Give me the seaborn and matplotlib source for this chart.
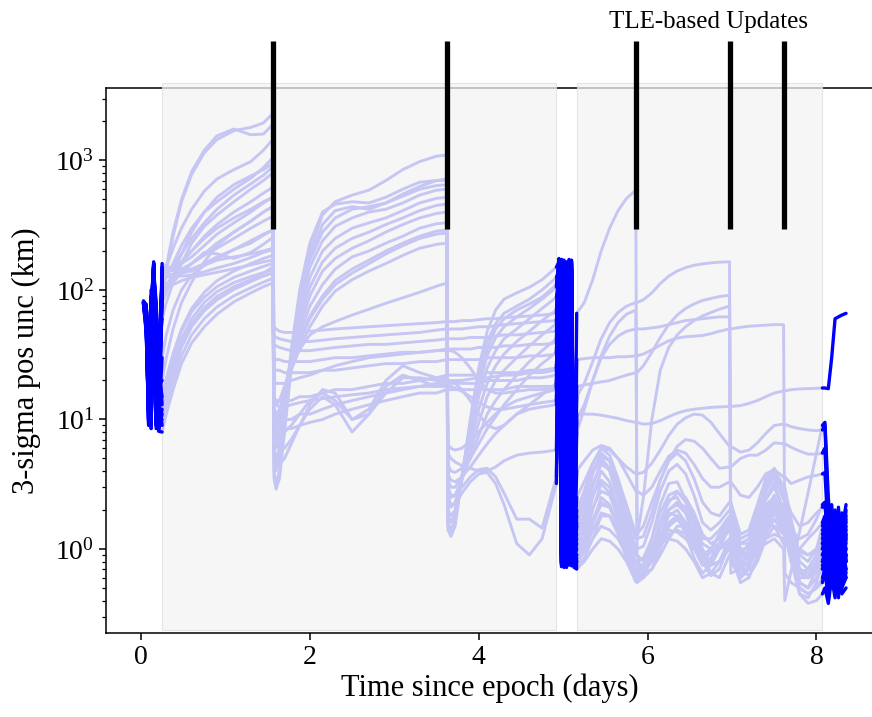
import numpy as np
import pandas as pd
import matplotlib
matplotlib.use("Agg")
import matplotlib.pyplot as plt
from matplotlib.patches import Rectangle
import seaborn as sns

# --- knot times for each phase (days) ---
GAP0_T = [0.03, 0.06, 0.09, 0.12, 0.15, 0.18, 0.21]
A_T = [0.25, 0.3, 0.38, 0.48, 0.6, 0.75, 0.9, 1.1, 1.3, 1.45, 1.56]
B_T = [1.575, 1.6, 1.64, 1.7, 1.78, 1.88, 2.0, 2.15, 2.3, 2.5, 2.7, 2.9, 3.1, 3.3, 3.5, 3.62]
C_T = [3.635, 3.67, 3.72, 3.8, 3.9, 4.0, 4.1, 4.2, 4.3, 4.45, 4.6, 4.75, 4.92]
GAP1_T = [4.95, 4.98, 5.01, 5.04, 5.07, 5.10, 5.13]
D_T = [5.16, 5.25, 5.35, 5.45, 5.55, 5.65, 5.75, 5.86, 5.875, 5.95, 6.05, 6.15, 6.25,
       6.35, 6.45, 6.55, 6.65, 6.75, 6.85, 6.97, 6.985, 7.1, 7.2, 7.3, 7.4, 7.5,
       7.61, 7.625, 7.7, 7.8, 7.9, 8.0, 8.07]
GAP2_T = [8.10, 8.14, 8.18, 8.22, 8.26, 8.30, 8.35]

# TLE update epochs and shaded propagation windows
UPDATES = [1.56, 3.62, 5.86, 6.97, 7.61]
WINDOWS = [(0.249, 4.911), (5.16, 8.07)]

# --- 3-sigma position uncertainty (km) per run ---
GAP0 = [
    [80, 78, 40, 8.5, 150, 30, 8.2], [81, 70, 9.0, 60, 160, 9.0, 20],
    [79, 50, 25, 12, 120, 60, 10], [80, 60, 15, 100, 40, 8.5, 40],
    [82, 76, 30, 9.0, 165, 45, 9.5], [78, 55, 9.5, 80, 150, 12, 30],
    [80, 66, 20, 10, 140, 80, 8.8], [81, 72, 12, 50, 160, 20, 12],
    [79, 48, 22, 14, 110, 50, 18], [80, 74, 35, 8.7, 155, 25, 8.4],
    [80, 64, 10, 70, 145, 10, 25], [81, 58, 18, 11, 130, 70, 11],
    [79, 75, 45, 9.2, 158, 35, 9.0], [80, 62, 14, 90, 60, 9.0, 35],
    [82, 70, 28, 8.9, 162, 40, 8.6], [78, 52, 11, 40, 150, 15, 14],
    [80, 77, 38, 8.6, 148, 28, 8.1], [81, 66, 16, 12, 138, 65, 9.5],
    [79, 60, 9.8, 75, 152, 11, 22], [80, 71, 32, 9.4, 160, 33, 8.5],
    [80, 68, 13, 55, 142, 14, 28], [81, 57, 24, 10, 125, 75, 12],
    [79, 73, 9.3, 65, 155, 9.5, 18], [80, 63, 36, 9.6, 135, 55, 10],
    [82, 69, 11, 85, 70, 9.2, 30], [78, 54, 26, 13, 145, 38, 9.8],
]

SEG_A = [
    [90, 140, 260, 480, 780, 1150, 1450, 1700, 1800, 1950, 2300],
    [100, 150, 280, 500, 820, 1200, 1550, 1750, 1580, 1600, 1900],
    [120, 150, 210, 300, 420, 580, 720, 850, 980, 1200, 1450],
    [110, 125, 160, 220, 300, 400, 480, 600, 730, 880, 1050],
    [130, 135, 155, 190, 250, 330, 420, 540, 660, 770, 890],
    [60, 80, 115, 160, 230, 310, 380, 480, 600, 700, 800],
    [100, 110, 130, 160, 200, 260, 320, 400, 480, 560, 620],
    [140, 140, 145, 160, 180, 220, 270, 330, 400, 470, 520],
    [20, 30, 50, 80, 115, 165, 220, 280, 340, 400, 440],
    [150, 145, 140, 145, 160, 185, 210, 250, 300, 340, 370],
    [120, 125, 130, 135, 140, 155, 175, 205, 240, 270, 290],
    [100, 105, 115, 135, 160, 195, 190, 175, 195, 225, 255],
    [140, 135, 130, 128, 130, 138, 148, 160, 178, 195, 205],
    [90, 100, 110, 118, 125, 131, 137, 146, 156, 165, 170],
    [12, 18, 28, 42, 60, 80, 97, 114, 127, 136, 143],
    [9, 13, 20, 31, 45, 60, 74, 90, 104, 115, 123],
    [8, 11, 17, 27, 39, 52, 65, 81, 95, 106, 113],
    [10, 15, 23, 36, 52, 69, 84, 101, 116, 128, 135],
    [15, 21, 32, 48, 68, 88, 106, 125, 140, 152, 160],
    [11, 16, 25, 38, 55, 73, 89, 106, 120, 135, 150],
    [80, 95, 130, 190, 280, 400, 520, 650, 760, 850, 950],
    [160, 150, 150, 165, 200, 250, 300, 360, 420, 480, 520],
    [110, 112, 120, 135, 160, 190, 230, 280, 340, 400, 440],
    [150, 145, 142, 140, 145, 160, 180, 205, 230, 265, 290],
    [13, 20, 32, 50, 72, 96, 118, 140, 160, 175, 185],
    [30, 45, 70, 100, 130, 155, 170, 180, 190, 200, 210],
]

SEG_B = [
    [3.5, 2.9, 3.5, 8, 25, 80, 200, 380, 480, 540, 590, 700, 850, 980, 1080, 1100],
    [4, 3.2, 4, 9, 27, 80, 180, 320, 410, 440, 420, 470, 550, 630, 700, 720],
    [5, 4, 5, 11, 30, 80, 170, 280, 360, 420, 440, 470, 530, 600, 640, 650],
    [6, 5, 6, 13, 30, 75, 150, 240, 310, 360, 400, 420, 470, 540, 590, 600],
    [7, 6, 7, 14, 30, 65, 125, 200, 250, 300, 330, 360, 410, 470, 510, 520],
    [8, 7, 8, 15, 30, 58, 105, 165, 210, 250, 280, 320, 360, 410, 450, 460],
    [9, 8, 9, 16, 30, 52, 90, 140, 175, 210, 240, 280, 320, 360, 390, 400],
    [10, 9, 10, 17, 29, 46, 75, 110, 145, 180, 200, 230, 260, 300, 325, 330],
    [12, 10, 11, 17, 27, 42, 63, 90, 118, 145, 170, 200, 230, 260, 285, 290],
    [12, 11, 12, 16, 24, 36, 52, 75, 98, 120, 140, 160, 185, 210, 225, 230],
    [14, 13, 14, 18, 25, 35, 45, 52, 57, 64, 71, 79, 87, 96, 107, 113],
    [45, 43, 42, 41, 40, 40, 40, 41, 42, 43, 44, 45, 46, 47, 49, 50],
    [38, 37, 36, 35, 34, 34, 34, 35, 36, 37, 38, 38, 39, 40, 41, 42],
    [30, 29, 29, 28, 28, 28, 28, 29, 30, 30, 31, 32, 33, 33, 34, 35],
    [25, 24, 24, 23, 23, 23, 23, 24, 24, 25, 26, 27, 27, 28, 28, 29],
    [15, 14, 14, 14, 14, 15, 15, 16, 17, 17, 18, 19, 19, 20, 21, 22],
    [11, 10, 10, 10, 10, 11, 11, 12, 13, 14, 15, 16, 17, 18, 18, 19],
    [9, 8.5, 8.5, 8.5, 8.5, 9, 9.5, 10, 11, 12, 13, 14, 15, 16, 16, 17],
    [8, 6.5, 6, 6, 7, 9, 12, 15, 13, 8, 11, 18, 22, 20, 18, 18],
    [6, 4.5, 4.5, 5, 6.5, 9, 13, 17, 16, 10, 12, 20, 26, 23, 21, 21],
    [5.5, 4.5, 5.5, 12, 35, 100, 230, 400, 460, 480, 470, 520, 600, 680, 700, 700],
    [52, 50, 48, 47, 47, 47, 48, 49, 50, 51, 52, 53, 54, 55, 56, 57],
    [10, 8, 7.5, 8, 9, 11, 14, 16, 14, 10, 11, 16, 21, 21, 20, 20],
    [14, 13, 12.5, 12.5, 13, 13.5, 14, 14.5, 15, 15.5, 16, 17, 17.5, 18, 19, 20],
    [11, 10, 11, 16, 26, 40, 60, 85, 110, 135, 160, 190, 220, 250, 270, 275],
    [20, 19, 19, 19, 20, 21, 22, 24, 26, 28, 30, 31, 32, 33, 34, 34],
]

SEG_C = [
    [1.4, 1.25, 1.5, 3.5, 10, 25, 48, 70, 85, 95, 105, 120, 150],
    [1.6, 1.4, 1.7, 3.6, 9.5, 22, 40, 55, 66, 75, 85, 100, 125],
    [1.8, 1.6, 1.9, 3.6, 8.5, 18, 31, 43, 52, 62, 72, 85, 105],
    [2.0, 1.8, 2.0, 3.5, 7.5, 15, 25, 34, 42, 50, 60, 72, 88],
    [2.4, 2.1, 2.3, 3.4, 6.5, 12, 19, 26, 32, 40, 48, 58, 70],
    [2.8, 2.5, 2.6, 3.4, 5.5, 9.5, 15, 20, 24, 30, 37, 45, 55],
    [3.4, 3.0, 3.0, 3.6, 5.0, 7.5, 11, 14, 17, 22, 28, 34, 42],
    [4.5, 4.0, 3.9, 4.2, 5.0, 6.5, 8.5, 10.5, 13, 17, 22, 27, 33],
    [5.5, 5.0, 4.7, 4.4, 4.2, 4.0, 4.0, 4.3, 4.8, 5.3, 5.5, 5.6, 5.8],
    [3.0, 2.6, 2.6, 3.0, 3.6, 4.1, 4.2, 3.6, 2.7, 1.7, 1.7, 1.45, 3.6],
    [2.6, 2.2, 2.2, 2.7, 3.3, 3.8, 3.9, 3.2, 2.2, 1.1, 0.9, 1.2, 3.2],
    [50, 50, 50, 50, 51, 52, 52, 53, 54, 55, 56, 57, 58],
    [42, 42, 42, 42, 43, 43, 43, 44, 45, 45, 46, 47, 48],
    [35, 35, 35, 35, 35, 36, 36, 36, 37, 37, 38, 38, 39],
    [29, 29, 29, 29, 29, 29, 30, 30, 30, 30, 31, 31, 32],
    [22, 22, 22, 22, 22, 22, 23, 23, 23, 23, 24, 24, 25],
    [19, 19, 19, 19, 19, 19, 20, 20, 20, 20, 21, 21, 22],
    [17, 17, 17, 17, 17, 17, 17, 17, 17, 18, 18, 18, 18],
    [18, 18, 17.5, 16.5, 15, 13.5, 12.5, 12, 12, 12.5, 13, 13.5, 14],
    [3.8, 3.4, 3.3, 3.6, 4.3, 5.3, 6.5, 7.8, 9, 11, 13, 15.5, 19],
    [1.5, 1.3, 1.6, 3.6, 9, 20, 35, 50, 60, 70, 78, 88, 110],
    [57, 57, 57, 58, 58, 59, 60, 60, 61, 62, 63, 64, 66],
    [20, 20, 19, 17, 14, 11, 9, 8.5, 9, 11, 12, 12.5, 13],
    [20, 20, 20, 20, 20.5, 21, 21, 21.5, 22, 22, 23, 23, 24],
    [6.5, 6.0, 5.8, 6.0, 6.8, 8, 9.5, 11, 12.5, 14, 15, 16, 17],
    [34, 34, 33, 30, 25, 20, 17, 16, 16, 16.5, 17, 17, 17.5],
]

GAP1 = [
    [165, 0.9, 120, 0.8, 170, 0.75, 1.0], [140, 165, 0.8, 150, 0.9, 110, 0.78],
    [170, 0.85, 90, 0.75, 160, 0.8, 0.9], [120, 172, 0.78, 130, 0.85, 150, 0.76],
    [160, 0.95, 140, 0.9, 155, 0.82, 1.1], [150, 168, 0.72, 160, 0.8, 120, 0.74],
    [175, 0.8, 110, 0.78, 150, 0.9, 0.95], [130, 160, 0.9, 100, 0.76, 165, 0.8],
    [155, 0.88, 150, 0.82, 140, 0.74, 0.85], [110, 170, 0.74, 155, 0.92, 100, 0.9],
    [168, 0.78, 130, 0.8, 172, 0.77, 1.2], [145, 150, 0.82, 120, 0.86, 140, 0.75],
    [172, 0.73, 100, 0.74, 160, 0.9, 0.8], [125, 165, 0.92, 145, 0.78, 130, 0.85],
    [166, 0.77, 160, 0.88, 150, 0.76, 0.9], [135, 172, 0.84, 110, 0.8, 155, 0.72],
    [172, 0.75, 155, 0.76, 165, 0.82, 0.78], [150, 160, 0.86, 140, 0.9, 125, 0.8],
    [160, 0.79, 170, 0.74, 130, 0.85, 1.0], [140, 155, 0.9, 135, 0.77, 160, 0.82],
    [165, 0.82, 125, 0.8, 168, 0.78, 0.95], [118, 170, 0.76, 160, 0.84, 145, 0.8],
    [158, 0.9, 145, 0.72, 150, 0.88, 1.05], [128, 150, 0.8, 165, 0.75, 120, 0.86],
    [170, 0.76, 135, 0.86, 140, 0.8, 0.88], [145, 162, 0.88, 125, 0.82, 170, 0.77],
]

SEG_D = [
    [66, 80, 120, 200, 300, 410, 510, 590, 0.9, 0.6, 0.7, 1.0, 1.5, 1.7, 1.5, 1.0, 0.75, 0.8, 1.1, 1.5, 1.5, 0.9, 0.95, 1.4, 2.2, 2.5, 1.6, 1.6, 1.0, 0.65, 0.7, 0.9, 1.1],
    [15, 19, 28, 42, 56, 67, 75, 80, 80, 84, 95, 112, 128, 140, 149, 155, 159, 162, 164, 165, 1.7, 1.0, 0.85, 0.9, 1.5, 2.0, 1.4, 1.4, 0.9, 0.6, 0.6, 0.75, 0.9],
    [10, 13, 20, 31, 44, 56, 65, 70, 1.2, 2.5, 10, 24, 36, 45, 52, 58, 63, 67, 71, 75, 0.65, 0.7, 1.0, 1.5, 2.4, 3.0, 2.0, 2.0, 1.2, 0.65, 0.6, 0.7, 0.8],
    [29, 29.5, 30, 30, 30, 30.5, 30.5, 31, 31, 32, 34.5, 37.5, 40.5, 42.5, 43.5, 44, 44.5, 46, 48, 50, 50, 51.5, 52.5, 53, 53.5, 54, 54, 0.65, 0.55, 0.5, 0.45, 0.5, 0.55],
    [18, 18.5, 19, 19.5, 20, 21, 22, 23, 23, 26, 33, 43, 54, 64, 72, 78, 83, 86, 89, 91, 1.0, 0.75, 0.8, 1.1, 1.8, 2.2, 1.5, 1.5, 0.9, 0.55, 0.5, 0.6, 0.7],
    [11, 11, 11, 10.8, 10.5, 10.2, 9.8, 9.5, 9.5, 9.2, 9.3, 9.8, 10.5, 11.2, 11.7, 12, 12.2, 12.4, 12.5, 12.6, 12.6, 12.8, 13.3, 14, 15, 16, 16.6, 16.6, 17, 17.2, 17.3, 17.4, 17.5],
    [2.5, 3.3, 4.6, 6.0, 5.8, 5.0, 4.3, 3.8, 3.8, 3.9, 4.6, 5.8, 7.5, 9.2, 10.3, 11, 10.8, 9.5, 7.8, 6.2, 6.2, 5.6, 5.8, 6.6, 7.8, 9.0, 9.2, 9.2, 8.8, 8.5, 8.3, 8.2, 8.3],
    [1.8, 2.6, 4.0, 5.2, 4.8, 3.4, 2.2, 1.3, 1.3, 1.5, 2.3, 3.4, 4.8, 6.2, 7.0, 6.8, 6.0, 5.0, 4.2, 4.3, 4.3, 5.0, 5.3, 5.3, 5.8, 6.6, 6.5, 6.5, 6.1, 5.7, 5.4, 5.4, 5.5],
    [1.0, 1.6, 3.0, 4.8, 4.0, 2.4, 1.2, 0.65, 0.62, 0.7, 1.2, 2.2, 3.2, 3.3, 2.4, 1.4, 0.9, 1.0, 1.3, 1.7, 1.7, 0.7, 0.8, 1.6, 2.8, 3.8, 2.5, 2.5, 1.3, 0.55, 0.5, 0.7, 1.0],
    [0.9, 1.4, 2.5, 4.0, 3.3, 2.0, 1.0, 0.56, 0.55, 0.6, 0.95, 1.6, 2.4, 2.5, 1.9, 1.2, 0.8, 0.95, 1.3, 1.6, 1.6, 0.6, 0.7, 1.4, 2.5, 3.2, 2.0, 2.0, 0.9, 0.45, 0.42, 0.55, 0.8],
    [0.8, 1.2, 2.0, 3.2, 2.7, 1.7, 0.95, 0.6, 0.6, 0.62, 0.85, 1.3, 1.8, 2.0, 1.6, 1.1, 0.75, 0.85, 1.1, 1.4, 1.4, 0.7, 0.7, 1.1, 1.8, 2.5, 1.6, 1.6, 1.0, 0.55, 0.5, 0.6, 0.7],
    [0.75, 1.0, 1.6, 2.5, 2.2, 1.5, 0.9, 0.62, 0.62, 0.66, 0.8, 1.1, 1.5, 1.7, 1.4, 1.0, 0.8, 0.85, 1.0, 1.2, 1.2, 0.75, 0.75, 1.0, 1.4, 1.9, 1.4, 1.4, 1.0, 0.65, 0.6, 0.7, 0.9],
    [0.72, 0.85, 1.2, 1.8, 1.8, 1.3, 0.85, 0.58, 0.58, 0.7, 1.0, 1.5, 1.9, 1.8, 1.3, 0.85, 0.65, 0.75, 1.0, 1.5, 1.5, 1.1, 1.1, 1.3, 1.6, 1.5, 1.1, 1.1, 1.0, 1.0, 1.2, 1.4, 1.6],
    [0.85, 1.0, 1.2, 1.5, 1.4, 1.2, 0.9, 0.7, 0.7, 0.75, 0.95, 1.2, 1.4, 1.35, 1.2, 1.0, 0.9, 0.95, 1.0, 1.1, 1.1, 0.9, 0.95, 1.1, 1.2, 1.3, 1.2, 1.2, 1.1, 1.0, 0.9, 0.95, 1.0],
    [1.2, 1.7, 2.6, 3.4, 3.0, 2.0, 1.2, 0.8, 0.8, 0.85, 1.2, 1.9, 2.6, 2.8, 2.3, 1.7, 1.2, 1.2, 1.4, 1.8, 1.8, 1.0, 1.0, 1.4, 2.0, 2.6, 1.8, 1.8, 1.3, 0.95, 0.9, 1.0, 1.3],
    [0.7, 0.8, 1.0, 1.2, 1.15, 1.0, 0.8, 0.56, 0.56, 0.65, 0.85, 1.1, 1.2, 1.15, 1.0, 0.8, 0.6, 0.65, 0.8, 1.0, 1.0, 0.8, 0.85, 1.0, 1.1, 1.2, 1.0, 0.4, 0.68, 1.36, 2.7, 5.5, 9.0],
    [1.5, 2.2, 3.8, 5.5, 4.8, 3.0, 1.8, 1.0, 1.0, 1.05, 1.6, 2.8, 4.0, 4.5, 3.8, 2.6, 1.6, 1.4, 1.6, 2.0, 2.0, 1.1, 1.2, 2.0, 3.2, 4.0, 2.8, 2.8, 1.5, 0.7, 0.6, 0.8, 1.2],
    [0.9, 1.1, 1.6, 2.2, 2.1, 1.6, 1.1, 0.8, 0.8, 0.65, 0.7, 0.9, 1.2, 1.5, 1.5, 1.3, 0.9, 0.65, 0.6, 0.9, 0.9, 0.55, 0.6, 0.9, 1.3, 1.7, 1.3, 1.3, 0.8, 0.45, 0.38, 0.4, 0.45],
    [2.0, 2.8, 4.5, 6.0, 5.3, 3.5, 2.1, 1.2, 1.2, 1.25, 1.9, 3.4, 4.8, 5.5, 4.8, 3.5, 2.3, 1.9, 1.8, 2.3, 2.3, 1.3, 1.4, 2.2, 3.5, 4.2, 3.0, 3.0, 1.7, 0.9, 0.8, 1.0, 1.5],
    [1.1, 1.4, 2.1, 2.8, 2.6, 1.8, 1.1, 0.65, 0.65, 0.7, 0.95, 1.5, 2.0, 2.2, 1.9, 1.5, 1.1, 1.0, 1.1, 1.5, 1.5, 0.85, 0.9, 1.3, 1.8, 2.2, 1.7, 1.7, 1.4, 1.2, 1.3, 1.7, 2.2],
    [4.0, 4.8, 5.8, 6.3, 6.0, 5.0, 3.8, 2.8, 2.8, 2.6, 3.0, 4.0, 5.2, 5.8, 5.5, 4.5, 3.5, 3.0, 3.0, 3.3, 3.3, 2.6, 2.5, 3.0, 3.8, 4.1, 3.6, 3.6, 3.2, 3.4, 3.6, 3.7, 3.8],
    [0.8, 1.1, 1.7, 2.3, 2.1, 1.5, 1.0, 0.7, 0.7, 0.68, 0.8, 1.05, 1.3, 1.4, 1.3, 1.1, 0.85, 0.75, 0.8, 1.05, 1.05, 0.62, 0.75, 1.2, 1.9, 2.4, 1.7, 1.7, 1.1, 0.7, 0.65, 0.8, 1.1],
    [1.3, 1.9, 3.2, 4.5, 4.1, 2.8, 1.6, 0.9, 0.9, 0.8, 1.0, 1.5, 2.0, 2.3, 2.1, 1.6, 1.0, 0.75, 0.8, 1.2, 1.2, 0.9, 1.1, 1.7, 2.8, 3.5, 2.6, 2.6, 1.9, 1.5, 1.6, 1.9, 2.1],
    [8, 12, 20, 30, 38, 44, 48, 50, 50, 50, 51, 52, 54, 56, 58, 59, 60, 61, 62, 62, 0.8, 0.6, 0.7, 1.1, 1.7, 2.0, 1.4, 1.4, 0.8, 0.5, 0.45, 0.5, 0.6],
    [0.78, 0.95, 1.4, 1.9, 1.8, 1.4, 0.95, 0.68, 0.68, 0.7, 0.9, 1.2, 1.6, 1.8, 1.6, 1.2, 0.8, 0.62, 0.7, 1.1, 1.1, 0.7, 0.62, 0.8, 1.2, 1.5, 1.3, 1.3, 0.95, 0.7, 0.6, 0.65, 0.75],
    [1.6, 2.4, 3.9, 5.0, 4.2, 2.6, 1.4, 0.75, 0.75, 0.75, 1.0, 1.6, 2.3, 2.7, 2.5, 1.9, 1.3, 1.1, 1.2, 1.7, 1.7, 1.2, 1.3, 2.0, 3.0, 3.6, 2.4, 2.4, 1.4, 0.8, 0.7, 0.9, 1.4],
]

GAP2 = [
    [1.3, 0.5, 1.2, 0.6, 1.6, 0.7, 0.9], [1.0, 0.45, 0.9, 1.8, 0.5, 1.1, 0.7],
    [0.95, 0.6, 1.5, 0.7, 0.5, 1.3, 1.1], [0.7, 0.4, 0.8, 0.45, 1.2, 0.5, 0.6],
    [0.8, 1.4, 0.5, 1.0, 0.55, 1.9, 0.8], [17.5, 17.3, 30, 60, 62, 64, 66],
    [9.0, 1.8, 1.0, 0.7, 1.6, 0.9, 1.4], [6.0, 1.5, 0.9, 1.2, 2.0, 0.8, 2.0],
    [1.2, 0.55, 1.1, 0.5, 0.9, 1.4, 0.8], [0.9, 0.42, 0.7, 1.3, 0.45, 0.9, 0.6],
    [0.8, 0.5, 1.3, 0.6, 2.1, 0.7, 1.0], [1.0, 0.6, 0.8, 1.5, 0.65, 1.2, 0.9],
    [1.8, 1.0, 0.7, 0.9, 1.7, 0.6, 1.2], [1.1, 0.7, 1.6, 0.8, 1.0, 0.5, 1.3],
    [1.5, 0.8, 1.1, 2.0, 0.9, 1.5, 1.6], [9.5, 2.5, 1.2, 0.8, 1.4, 0.7, 1.5],
    [1.4, 0.6, 0.9, 0.5, 1.8, 0.8, 0.7], [0.5, 0.38, 0.6, 0.42, 0.8, 0.45, 0.5],
    [1.7, 0.9, 2.2, 1.0, 0.6, 1.2, 1.8], [2.3, 1.2, 0.8, 1.6, 0.7, 1.4, 2.2],
    [3.9, 1.3, 0.7, 1.1, 0.6, 1.0, 0.8], [1.2, 0.65, 1.4, 0.55, 1.0, 0.6, 1.3],
    [2.2, 1.1, 0.6, 1.9, 0.8, 1.6, 1.0], [0.7, 0.5, 1.0, 0.45, 0.7, 0.55, 0.9],
    [0.8, 1.2, 0.55, 0.9, 0.42, 1.1, 0.65], [1.5, 0.7, 1.8, 0.8, 1.3, 0.6, 1.7],
]

LIGHT = "#c6c6f4"
DARK = "#0000ff"

# ---- build long-form tables ----
light_rows = []
dark_rows = []
for r in range(len(SEG_A)):
    t_abc = A_T + B_T + C_T
    v_abc = SEG_A[r] + SEG_B[r] + SEG_C[r]
    for t, v in zip(t_abc, v_abc):
        light_rows.append((t, v, f"{r}-abc"))
    for t, v in zip(D_T, SEG_D[r]):
        light_rows.append((t, v, f"{r}-d"))

    g0_t = GAP0_T + [A_T[0]]
    g0_v = GAP0[r] + [SEG_A[r][0]]
    for t, v in zip(g0_t, g0_v):
        dark_rows.append((t, v, f"{r}-g0"))
    g1_t = [C_T[-1]] + GAP1_T + [D_T[0]]
    g1_v = [SEG_C[r][-1]] + GAP1[r] + [SEG_D[r][0]]
    for t, v in zip(g1_t, g1_v):
        dark_rows.append((t, v, f"{r}-g1"))
    g2_t = [D_T[-1]] + GAP2_T
    g2_v = [SEG_D[r][-1]] + GAP2[r]
    for t, v in zip(g2_t, g2_v):
        dark_rows.append((t, v, f"{r}-g2"))

light_df = pd.DataFrame(light_rows, columns=["t", "sigma", "unit"])
dark_df = pd.DataFrame(dark_rows, columns=["t", "sigma", "unit"])

# ---- style ----
sns.set_style("ticks")
plt.rcParams["font.family"] = ["Liberation Serif", "DejaVu Serif"]
plt.rcParams["mathtext.fontset"] = "stix"
plt.rcParams["axes.linewidth"] = 1.1
plt.rcParams["axes.edgecolor"] = "black"
plt.rcParams["text.color"] = "black"
plt.rcParams["axes.labelcolor"] = "black"
plt.rcParams["xtick.color"] = "black"
plt.rcParams["ytick.color"] = "black"

fig = plt.figure(figsize=(8.72, 7.17), dpi=100)
ax = fig.add_axes([0.1216, 0.1172, 0.88, 0.7601])
ax.set_yscale("log")

for x0, x1 in WINDOWS:
    ax.add_patch(Rectangle((x0, 0.237), x1 - x0, 3950 - 0.237,
                           facecolor="#f3f3f3", edgecolor="#dedede", lw=0.8,
                           alpha=0.75, clip_on=False, zorder=3))

sns.lineplot(data=light_df, x="t", y="sigma", units="unit", estimator=None,
             sort=False, color=LIGHT, lw=2.1, ax=ax, zorder=4)
sns.lineplot(data=dark_df, x="t", y="sigma", units="unit", estimator=None,
             sort=False, color=DARK, lw=2.4, ax=ax, zorder=5)

ax.vlines(UPDATES, 298, 8300, colors="k", lw=3.8, clip_on=False, zorder=6)
fig.text(708 / 872, 1 - 22 / 717, "TLE-based Updates", ha="center", va="center",
         fontsize=18, color="black")

ax.set_xlim(-0.414, 8.674)
ax.set_ylim(0.2246, 3630)
ax.set_xticks([0, 2, 4, 6, 8])
ax.spines["right"].set_visible(False)
ax.tick_params(axis="both", which="major", labelsize=20, length=5, width=1.1,
               color="black", labelcolor="black")
ax.tick_params(axis="y", which="minor", length=3, width=0.9, color="black")
ax.set_xlabel("Time since epoch (days)", fontsize=22, labelpad=3, color="black")
ax.set_ylabel("3-sigma pos unc (km)", fontsize=22, labelpad=10, color="black")

fig.savefig("out.png", dpi=100)
